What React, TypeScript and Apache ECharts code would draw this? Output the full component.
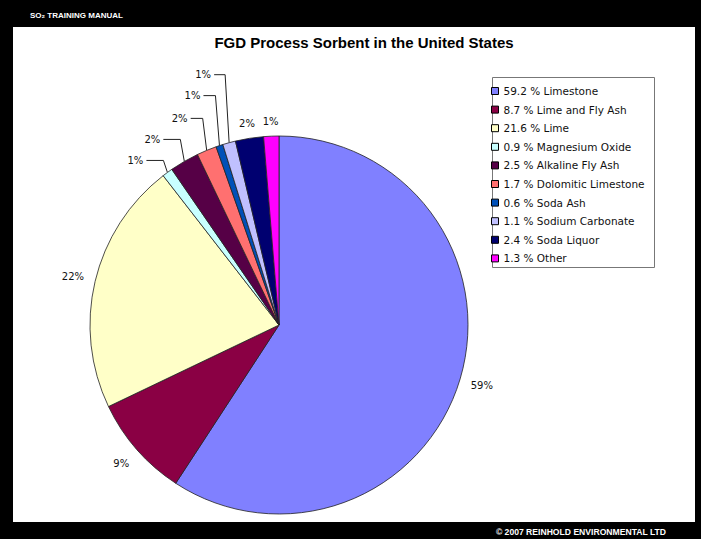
import React, { useEffect, useRef } from 'react';
import * as echarts from 'echarts';

const categories = ['Limestone', 'Lime and Fly Ash', 'Lime', 'Magnesium Oxide', 'Alkaline Fly Ash', 'Dolomitic Limestone', 'Soda Ash', 'Sodium Carbonate', 'Soda Liquor', 'Other'];
const shares = [59.2, 8.7, 21.6, 0.9, 2.5, 1.7, 0.6, 1.1, 2.4, 1.3];
const sliceLabels = ['59%', '9%', '22%', '1%', '2%', '2%', '1%', '1%', '2%', '1%'];
const colors = ['#8080FF', '#8A0044', '#FFFFC8', '#C8FFFF', '#560046', '#FF7070', '#0050B8', '#C0C0FF', '#000070', '#FF00FF'];

// label offsets (from the slice edge) for the leader-line labels
const leaderOffsets: Record<number, [number, number]> = {
  3: [-32, -12],
  4: [-32, -22],
  5: [-27, -32],
  6: [-27, -50],
  7: [-26, -68],
};

const CX = 279;
const CY = 325;
const R = 189;

export default function App() {
  const ref = useRef<HTMLDivElement>(null);
  useEffect(() => {
    document.body.style.margin = '0';
    const chart = echarts.init(ref.current!, undefined, { renderer: 'svg' });
    const total = shares.reduce((a, b) => a + b, 0);
    const midAngle = (i: number) => {
      let s = 0;
      for (let k = 0; k < i; k++) s += shares[k];
      const mid = s + shares[i] / 2;
      return ((90 - (mid / total) * 360) * Math.PI) / 180;
    };
    chart.setOption({
      animation: false,
      backgroundColor: '#000',
      graphic: [
        { type: 'rect', z: 0, shape: { x: 13, y: 27, width: 682, height: 495 }, style: { fill: '#fff' } },
        { type: 'rect', z: 0, shape: { x: 492.5, y: 77.5, width: 162, height: 190 }, style: { fill: '#fff', stroke: '#777', lineWidth: 1 } },
        {
          type: 'text', z: 1, x: 30, y: 15,
          style: { text: 'SO₂ TRAINING MANUAL', fill: '#fff', font: 'bold 8px "Liberation Sans", "DejaVu Sans", Arial', align: 'left', verticalAlign: 'middle' },
        },
        {
          type: 'text', z: 1, x: 666, y: 532,
          style: { text: '© 2007 REINHOLD ENVIRONMENTAL LTD', fill: '#fff', font: 'bold 8.6px "Liberation Sans", Arial', align: 'right', verticalAlign: 'middle' },
        },
        {
          type: 'text', z: 1, x: 364, y: 42,
          style: { text: 'FGD Process Sorbent in the United States', fill: '#000', font: 'bold 15px "Liberation Sans", Arial', align: 'center', verticalAlign: 'middle' },
        },
      ],
      legend: {
        orient: 'vertical',
        left: 491,
        top: 85,
        padding: 0,
        itemWidth: 7,
        itemHeight: 7,
        itemGap: 6.6,
        icon: 'rect',
        itemStyle: { borderColor: '#000', borderWidth: 1 },
        textStyle: { fontFamily: 'DejaVu Sans', fontSize: 10.5, color: '#111', lineHeight: 12 },
        formatter: (name: string) => `${shares[categories.indexOf(name)]} % ${name}`,
        data: categories,
      },
      series: [
        {
          type: 'pie',
          center: [CX, CY],
          radius: R,
          startAngle: 90,
          clockwise: true,
          avoidLabelOverlap: false,
          itemStyle: { borderColor: '#222', borderWidth: 0.8 },
          label: {
            show: true,
            position: 'outside',
            fontFamily: 'DejaVu Sans',
            fontSize: 10,
            color: '#111',
            formatter: (p: any) => sliceLabels[p.dataIndex],
          },
          labelLine: { show: false, lineStyle: { color: '#222', width: 1 } },
          labelLayout: (p: any) => {
            const i = p.dataIndex;
            const a = midAngle(i);
            const c = Math.cos(a);
            const s = Math.sin(a);
            const ex = CX + R * c;
            const ey = CY - R * s;
            const off = leaderOffsets[i];
            if (off) {
              const lx = ex + off[0];
              const ly = ey + off[1];
              return {
                x: lx, y: ly, align: 'center', verticalAlign: 'middle',
                labelLinePoints: [[ex, ey], [ex - 4, ly], [lx + 11, ly]],
              };
            }
            const d = R + 14 + 9 * Math.abs(c);
            return { x: CX + d * c, y: CY - d * s, align: 'center', verticalAlign: 'middle' };
          },
          data: categories.map((n, i) => ({
            name: n,
            value: shares[i],
            itemStyle: { color: colors[i] },
            labelLine: { show: leaderOffsets[i] !== undefined },
          })),
        },
      ],
    });
    return () => chart.dispose();
  }, []);
  return <div ref={ref} style={{ width: 701, height: 539 }} />;
}
